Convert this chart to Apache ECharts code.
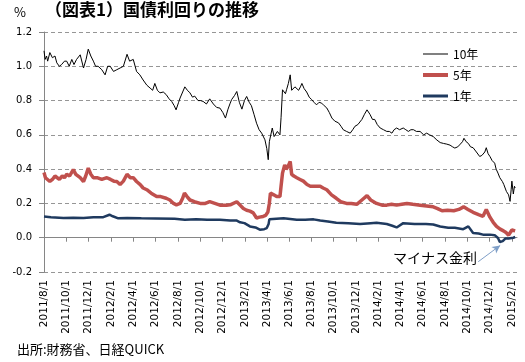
<!DOCTYPE html>
<html>
<head>
<meta charset="utf-8">
<script src="https://cdn.jsdelivr.net/npm/echarts@6/dist/echarts.min.js"></script>
<style>
html,body{margin:0;padding:0;background:#fff;}
#chart{width:525px;height:362px;}
</style>
</head>
<body>
<div id="chart"></div>
<script>
// ---- data ----
const titleText = '（図表1）国債利回りの推移';
const sourceText = '出所:財務省、日経QUICK';
const noteText = 'マイナス金利';
const unitText = '%';
const seriesNames = ['10年', '5年', '1年'];

const tickLabels = ['2011/8/1','2011/10/1','2011/12/1','2012/2/1','2012/4/1','2012/6/1','2012/8/1','2012/10/1','2012/12/1','2013/2/1','2013/4/1','2013/6/1','2013/8/1','2013/10/1','2013/12/1','2014/2/1','2014/4/1','2014/6/1','2014/8/1','2014/10/1','2014/12/1','2015/2/1'];
const axisStart = '2011-08-01';
const axisEnd = '2015-02-14';

const dates10 = ['2011-08-01','2011-08-04','2011-08-08','2011-08-11','2011-08-17','2011-08-24','2011-08-31','2011-09-05','2011-09-12','2011-09-18','2011-09-26','2011-10-02','2011-10-09','2011-10-16','2011-10-22','2011-10-29','2011-11-08','2011-11-17','2011-11-24','2011-11-30','2011-12-07','2011-12-14','2011-12-20','2011-12-27','2012-01-06','2012-01-15','2012-01-22','2012-01-29','2012-02-07','2012-02-16','2012-02-25','2012-03-05','2012-03-15','2012-03-22','2012-04-01','2012-04-10','2012-04-19','2012-04-28','2012-05-08','2012-05-17','2012-05-24','2012-05-30','2012-06-06','2012-06-13','2012-06-22','2012-06-30','2012-07-08','2012-07-15','2012-07-22','2012-07-27','2012-08-03','2012-08-07','2012-08-14','2012-08-20','2012-08-27','2012-09-03','2012-09-10','2012-09-16','2012-09-25','2012-10-02','2012-10-09','2012-10-18','2012-10-27','2012-11-06','2012-11-15','2012-11-24','2012-12-02','2012-12-09','2012-12-16','2012-12-22','2012-12-26','2013-01-03','2013-01-09','2013-01-16','2013-01-23','2013-01-30','2013-02-05','2013-02-12','2013-02-18','2013-02-25','2013-03-04','2013-03-11','2013-03-18','2013-03-27','2013-04-01','2013-04-05','2013-04-08','2013-04-11','2013-04-16','2013-04-21','2013-04-25','2013-04-30','2013-05-07','2013-05-10','2013-05-14','2013-05-18','2013-05-22','2013-05-25','2013-05-30','2013-06-04','2013-06-08','2013-06-13','2013-06-17','2013-06-22','2013-06-27','2013-07-02','2013-07-06','2013-07-12','2013-07-19','2013-07-26','2013-08-02','2013-08-08','2013-08-15','2013-08-22','2013-08-29','2013-09-05','2013-09-12','2013-09-19','2013-09-26','2013-10-04','2013-10-14','2013-10-21','2013-10-27','2013-11-05','2013-11-15','2013-11-22','2013-11-28','2013-12-06','2013-12-17','2013-12-24','2013-12-31','2014-01-08','2014-01-15','2014-01-21','2014-01-28','2014-02-05','2014-02-14','2014-02-23','2014-03-02','2014-03-09','2014-03-15','2014-03-22','2014-03-30','2014-04-09','2014-04-16','2014-04-23','2014-04-30','2014-05-07','2014-05-15','2014-05-25','2014-06-04','2014-06-12','2014-06-20','2014-06-30','2014-07-10','2014-07-19','2014-07-28','2014-08-06','2014-08-15','2014-08-22','2014-08-28','2014-09-05','2014-09-12','2014-09-18','2014-09-22','2014-09-28','2014-10-04','2014-10-10','2014-10-17','2014-10-26','2014-11-04','2014-11-10','2014-11-13','2014-11-18','2014-11-22','2014-11-27','2014-12-02','2014-12-08','2014-12-15','2014-12-19','2014-12-24','2014-12-29','2015-01-05','2015-01-09','2015-01-13','2015-01-16','2015-01-22','2015-01-26','2015-01-29','2015-01-31','2015-02-04','2015-02-07','2015-02-09'];
const values10 = [1.09,1.04,1.06,1.03,1.08,1.05,1.06,1.02,1.00,1.01,1.03,1.03,1.00,1.04,1.01,1.04,1.067,0.99,1.04,1.10,1.06,1.03,1.00,1.00,0.98,0.95,1.00,1.00,0.97,0.98,0.99,1.00,1.07,1.03,1.04,0.97,0.95,0.92,0.89,0.873,0.86,0.90,0.86,0.845,0.85,0.835,0.81,0.795,0.77,0.746,0.79,0.815,0.85,0.88,0.86,0.845,0.82,0.826,0.80,0.80,0.795,0.78,0.81,0.78,0.76,0.756,0.73,0.698,0.75,0.785,0.806,0.83,0.853,0.79,0.75,0.80,0.824,0.79,0.77,0.72,0.668,0.63,0.61,0.571,0.52,0.455,0.56,0.57,0.64,0.59,0.60,0.62,0.60,0.70,0.863,0.87,0.84,0.863,0.90,0.95,0.86,0.85,0.88,0.89,0.86,0.88,0.90,0.87,0.85,0.82,0.805,0.79,0.775,0.79,0.785,0.77,0.757,0.73,0.698,0.68,0.67,0.65,0.63,0.62,0.61,0.63,0.65,0.66,0.69,0.72,0.746,0.72,0.69,0.69,0.66,0.64,0.63,0.62,0.62,0.61,0.63,0.64,0.63,0.64,0.63,0.62,0.63,0.63,0.62,0.62,0.60,0.61,0.60,0.59,0.57,0.555,0.55,0.546,0.54,0.53,0.523,0.53,0.546,0.56,0.58,0.56,0.55,0.53,0.525,0.50,0.474,0.48,0.474,0.50,0.525,0.49,0.474,0.45,0.435,0.40,0.377,0.35,0.328,0.31,0.30,0.27,0.25,0.212,0.28,0.33,0.255,0.30,0.29];

const dates5 = ['2011-08-01','2011-08-05','2011-08-10','2011-08-17','2011-08-24','2011-08-31','2011-09-05','2011-09-12','2011-09-20','2011-09-26','2011-10-02','2011-10-10','2011-10-20','2011-10-27','2011-11-08','2011-11-17','2011-11-23','2011-11-30','2011-12-07','2011-12-14','2011-12-24','2012-01-06','2012-01-20','2012-01-30','2012-02-08','2012-02-16','2012-02-25','2012-03-05','2012-03-15','2012-03-24','2012-04-01','2012-04-10','2012-04-20','2012-04-28','2012-05-08','2012-05-20','2012-06-04','2012-06-15','2012-06-30','2012-07-10','2012-07-20','2012-07-28','2012-08-07','2012-08-14','2012-08-19','2012-08-26','2012-09-03','2012-09-15','2012-10-01','2012-10-15','2012-10-27','2012-11-10','2012-11-24','2012-12-05','2012-12-12','2012-12-22','2013-01-09','2013-01-18','2013-01-27','2013-02-05','2013-02-14','2013-02-23','2013-03-04','2013-03-12','2013-03-22','2013-03-29','2013-04-04','2013-04-08','2013-04-11','2013-04-16','2013-04-20','2013-04-28','2013-05-07','2013-05-10','2013-05-14','2013-05-20','2013-05-24','2013-05-29','2013-06-04','2013-06-08','2013-06-14','2013-06-22','2013-07-01','2013-07-10','2013-07-20','2013-07-29','2013-08-10','2013-08-25','2013-09-02','2013-09-12','2013-09-25','2013-10-08','2013-10-20','2013-11-05','2013-11-18','2013-12-03','2013-12-17','2013-12-31','2014-01-10','2014-01-26','2014-02-10','2014-02-23','2014-03-08','2014-03-22','2014-04-05','2014-04-19','2014-05-05','2014-05-25','2014-06-12','2014-06-30','2014-07-12','2014-07-24','2014-08-08','2014-08-25','2014-09-08','2014-09-21','2014-10-03','2014-10-17','2014-11-01','2014-11-13','2014-11-22','2014-12-02','2014-12-11','2014-12-20','2014-12-30','2015-01-08','2015-01-15','2015-01-22','2015-01-26','2015-01-31','2015-02-04','2015-02-09'];
const values5 = [0.38,0.35,0.36,0.328,0.34,0.36,0.35,0.34,0.36,0.35,0.37,0.36,0.397,0.37,0.35,0.328,0.36,0.406,0.37,0.35,0.35,0.34,0.35,0.34,0.33,0.328,0.31,0.33,0.37,0.35,0.35,0.328,0.31,0.29,0.28,0.26,0.241,0.24,0.23,0.22,0.20,0.192,0.20,0.23,0.26,0.24,0.22,0.21,0.20,0.20,0.21,0.20,0.19,0.19,0.19,0.192,0.21,0.19,0.17,0.16,0.155,0.145,0.115,0.12,0.124,0.13,0.15,0.20,0.26,0.25,0.25,0.24,0.24,0.30,0.377,0.425,0.40,0.415,0.445,0.37,0.36,0.35,0.34,0.33,0.31,0.30,0.30,0.30,0.29,0.28,0.25,0.23,0.21,0.20,0.20,0.195,0.22,0.245,0.22,0.20,0.19,0.19,0.195,0.19,0.195,0.20,0.195,0.19,0.185,0.18,0.17,0.157,0.16,0.157,0.165,0.18,0.165,0.148,0.135,0.125,0.165,0.12,0.09,0.066,0.05,0.04,0.03,0.015,0.008,0.045,0.056,0.04];

const dates1 = ['2011-08-01','2011-08-20','2011-09-23','2011-10-20','2011-11-17','2011-12-14','2012-01-10','2012-01-27','2012-02-05','2012-02-20','2012-03-15','2012-04-23','2012-06-01','2012-07-23','2012-08-20','2012-09-20','2012-10-20','2012-11-24','2012-12-22','2013-01-09','2013-01-18','2013-01-30','2013-02-14','2013-03-01','2013-03-13','2013-03-25','2013-04-01','2013-04-06','2013-04-08','2013-05-17','2013-06-22','2013-07-15','2013-08-07','2013-08-25','2013-09-15','2013-10-08','2013-11-10','2013-12-12','2014-01-10','2014-01-26','2014-02-23','2014-03-10','2014-03-22','2014-04-09','2014-05-10','2014-06-10','2014-06-30','2014-07-19','2014-08-10','2014-08-28','2014-09-20','2014-10-04','2014-10-17','2014-11-01','2014-11-13','2014-12-02','2014-12-15','2014-12-24','2014-12-29','2015-01-06','2015-01-13','2015-01-22','2015-02-04','2015-02-09'];
const values1 = [0.124,0.12,0.115,0.117,0.115,0.12,0.12,0.134,0.125,0.113,0.115,0.113,0.112,0.11,0.105,0.107,0.105,0.105,0.10,0.10,0.09,0.085,0.066,0.06,0.047,0.05,0.056,0.08,0.107,0.113,0.105,0.105,0.107,0.10,0.095,0.087,0.085,0.08,0.085,0.087,0.08,0.07,0.06,0.085,0.08,0.08,0.077,0.065,0.058,0.058,0.05,0.066,0.027,0.025,0.018,0.018,0.015,-0.002,-0.025,-0.02,-0.005,-0.004,0.0,0.004];

// annotation arrow (data space): from near the text toward the negative 1yr dip
const arrowFrom = ['2014-10-31', -0.14];
const arrowTo = ['2014-12-30', -0.045];

// ---- helpers ----
function toTime(s) {
  const p = s.split(/[-\/]/).map(Number);
  return new Date(p[0], p[1] - 1, p[2]).getTime();
}
function pairs(ds, vs) { return ds.map((d, i) => [toTime(d), vs[i]]); }
function fmtDate(v) {
  const d = new Date(v);
  return d.getFullYear() + '/' + (d.getMonth() + 1) + '/' + d.getDate();
}
const tickTimes = tickLabels.map(toTime);
const xMin = toTime(axisStart), xMax = toTime(axisEnd);
const cjk = '"Noto Sans CJK JP", "Noto Sans", sans-serif';
const num = '"DejaVu Sans", sans-serif';
const axisGray = '#868686';
const colors = ['#000000', '#c0504d', '#1f3a5f'];
const widths = [1, 3.5, 2.5];
const legendTops = [48, 69, 90];

function makeLegend(i) {
  return {
    data: [{ name: seriesNames[i], icon: 'rect' }],
    orient: 'vertical', left: 423, top: legendTops[i], padding: 0,
    itemWidth: 25, itemHeight: Math.max(1, Math.round(widths[i])),
    itemGap: 0,
    itemStyle: { color: colors[i], borderWidth: 0 },
    textStyle: { fontFamily: cjk, fontSize: 12, color: '#000' }
  };
}

const chart = echarts.init(document.getElementById('chart'), null, { renderer: 'canvas' });
chart.setOption({
  animation: false,
  backgroundColor: '#fff',
  title: {
    text: titleText, left: 45, top: 1, padding: 0,
    textStyle: { fontFamily: cjk, fontSize: 17, fontWeight: 'bold', color: '#000' }
  },
  legend: [makeLegend(0), makeLegend(1), makeLegend(2)],
  grid: { left: 44, right: 8, top: 32, bottom: 90 },
  xAxis: [
    {
      type: 'value', min: xMin, max: xMax, scale: true,
      axisLine: { show: false, onZero: false },
      axisTick: { show: false },
      splitLine: { show: false },
      axisLabel: {
        customValues: tickTimes, rotate: 90, margin: 8,
        fontFamily: num, fontSize: 10.5, color: '#000',
        formatter: fmtDate
      }
    },
    {
      type: 'value', min: xMin, max: xMax, scale: true, position: 'bottom',
      axisLine: { show: true, onZero: true, lineStyle: { color: axisGray, width: 1 } },
      axisTick: { show: true, customValues: tickTimes, length: 4, lineStyle: { color: axisGray } },
      axisLabel: { show: false },
      splitLine: { show: false }
    }
  ],
  yAxis: {
    type: 'value', min: -0.2, max: 1.2, interval: 0.2,
    axisLine: { show: true, onZero: false, lineStyle: { color: axisGray } },
    axisTick: { show: true, length: 5, lineStyle: { color: axisGray } },
    axisLabel: {
      fontFamily: num, fontSize: 10, color: '#000', margin: 12,
      formatter: v => v.toFixed(1)
    },
    splitLine: { show: true, lineStyle: { color: '#969696', type: [4, 3], width: 1 } }
  },
  series: [
    {
      name: seriesNames[0], type: 'line', xAxisIndex: 0, symbol: 'none',
      data: pairs(dates10, values10),
      lineStyle: { color: colors[0], width: widths[0] }, itemStyle: { color: colors[0] }
    },
    {
      name: seriesNames[1], type: 'line', xAxisIndex: 0, symbol: 'none',
      data: pairs(dates5, values5),
      lineStyle: { color: colors[1], width: widths[1] }, itemStyle: { color: colors[1] }
    },
    {
      name: seriesNames[2], type: 'line', xAxisIndex: 0, symbol: 'none',
      data: pairs(dates1, values1),
      lineStyle: { color: colors[2], width: widths[2] }, itemStyle: { color: colors[2] },
      markLine: {
        silent: true, symbol: ['none', 'arrow'], symbolSize: [6, 8],
        label: { show: false },
        lineStyle: { color: '#7f9fc8', width: 1, type: 'solid' },
        data: [[
          { coord: [toTime(arrowFrom[0]), arrowFrom[1]] },
          { coord: [toTime(arrowTo[0]), arrowTo[1]] }
        ]]
      }
    }
  ],
  graphic: [
    { type: 'text', left: 14, top: 6, style: { text: unitText, font: '13px ' + cjk, fill: '#000' } },
    { type: 'text', left: 393, top: 251, style: { text: noteText, font: '14px ' + cjk, fill: '#000' } },
    { type: 'text', left: 17, top: 343, style: { text: sourceText, font: '13px ' + cjk, fill: '#000' } }
  ]
});
</script>
</body>
</html>
